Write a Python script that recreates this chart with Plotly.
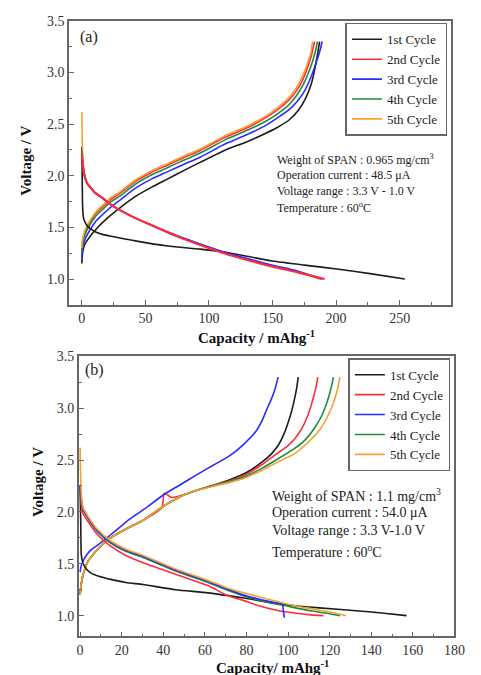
import plotly.graph_objects as go

# ---------------- Panel (a): SPAN 0.965 mg/cm2 ----------------
cycles = ["1st Cycle", "2nd Cycle", "3rd Cycle", "4th Cycle", "5th Cycle"]
colors = ["#1c1c1c", "#ff2b3c", "#2b2bff", "#1b8c3c", "#f5a030"]

# charge branches (capacity mAh/g, voltage V)
a_chg1_cap = [0, 0.3, 1, 2, 4, 7.5, 11.7, 20, 29.5, 42.2, 55, 67.6, 80, 93, 113, 128, 141, 154, 163, 170, 176, 180.5, 183, 185, 187]
a_chg1_v = [1.15, 1.22, 1.28, 1.33, 1.37, 1.43, 1.49, 1.59, 1.685, 1.80, 1.89, 1.97, 2.05, 2.13, 2.25, 2.32, 2.39, 2.47, 2.54, 2.63, 2.75, 2.89, 3.02, 3.15, 3.3]
a_chg2_cap = [0, 0.3, 1, 3, 6.6, 11, 16.8, 23, 29.5, 42.2, 55, 67.6, 80, 93, 113, 130, 145, 155, 163, 168.7, 173, 177, 180.5, 183]
a_chg2_v = [1.28, 1.34, 1.39, 1.47, 1.555, 1.635, 1.705, 1.775, 1.825, 1.945, 2.035, 2.105, 2.175, 2.245, 2.375, 2.465, 2.565, 2.65, 2.735, 2.82, 2.91, 3.03, 3.16, 3.3]
a_chg3_cap = [0, 0.3, 1, 3, 6.6, 11, 16.8, 23, 29.5, 42.2, 55, 67.6, 80, 93, 113, 130, 145, 155, 163, 170, 176, 181, 185, 187.5, 189]
a_chg3_v = [1.20, 1.27, 1.32, 1.40, 1.48, 1.56, 1.63, 1.70, 1.76, 1.88, 1.97, 2.04, 2.11, 2.18, 2.31, 2.40, 2.49, 2.57, 2.64, 2.73, 2.84, 2.98, 3.12, 3.22, 3.3]
a_chg4_cap = [0, 0.3, 1, 3, 6.6, 11, 16.8, 23, 29.5, 42.2, 55, 67.6, 80, 93, 113, 130, 145, 155, 163, 169, 174, 178, 181.5, 183.8, 185.3]
a_chg4_v = [1.26, 1.32, 1.37, 1.45, 1.53, 1.61, 1.68, 1.75, 1.80, 1.92, 2.01, 2.08, 2.15, 2.22, 2.35, 2.44, 2.53, 2.61, 2.69, 2.78, 2.88, 2.99, 3.11, 3.21, 3.3]
a_chg5_cap = [0, 0.3, 1, 3, 6.6, 11, 16.8, 23, 29.5, 42.2, 55, 67.6, 80, 93, 113, 130, 145, 155, 163, 168.7, 173, 177, 180, 181.5]
a_chg5_v = [1.30, 1.36, 1.41, 1.49, 1.57, 1.65, 1.72, 1.79, 1.84, 1.96, 2.05, 2.12, 2.19, 2.26, 2.39, 2.48, 2.58, 2.67, 2.76, 2.85, 2.95, 3.07, 3.19, 3.3]

# discharge branches
a_dis1_cap = [0, 0.3, 0.6, 1.2, 2.5, 4.5, 6.6, 10, 16.8, 25, 42, 67.6, 93, 113, 130, 150, 175, 202, 228, 254]
a_dis1_v = [2.28, 1.95, 1.70, 1.60, 1.55, 1.51, 1.49, 1.46, 1.43, 1.41, 1.37, 1.32, 1.29, 1.26, 1.22, 1.175, 1.135, 1.095, 1.05, 1.0]
a_dis2_cap = [0, 0.5, 1.5, 2.8, 4.5, 6.6, 10, 16.8, 23, 29.5, 42.2, 55, 67.6, 80, 93, 113, 130, 150, 170, 191]
a_dis2_v = [2.22, 2.14, 2.04, 1.97, 1.92, 1.89, 1.84, 1.78, 1.72, 1.67, 1.59, 1.52, 1.45, 1.39, 1.33, 1.245, 1.185, 1.12, 1.065, 1.0]
a_dis3_cap = [0, 0.5, 1.5, 2.8, 4.5, 6.6, 10, 16.8, 23, 29.5, 42.2, 55, 67.6, 80, 93, 113, 130, 150, 170, 189]
a_dis3_v = [2.22, 2.14, 2.04, 1.97, 1.92, 1.89, 1.84, 1.78, 1.72, 1.67, 1.59, 1.52, 1.456, 1.397, 1.34, 1.258, 1.198, 1.134, 1.076, 1.0]
a_dis4_cap = [0, 0.5, 1.5, 2.8, 4.5, 6.6, 10, 16.8, 23, 29.5, 42.2, 55, 67.6, 80, 93, 113, 130, 150, 170, 188]
a_dis4_v = [2.24, 2.15, 2.05, 1.97, 1.92, 1.89, 1.84, 1.78, 1.72, 1.67, 1.59, 1.52, 1.45, 1.39, 1.335, 1.25, 1.19, 1.125, 1.07, 1.0]
a_dis5_cap = [0, 0.3, 0.8, 1.5, 2.8, 4.5, 6.6, 10, 16.8, 23, 29.5, 42.2, 55, 67.6, 80, 93, 113, 130, 150, 170, 187]
a_dis5_v = [2.62, 2.35, 2.18, 2.05, 1.97, 1.92, 1.89, 1.84, 1.78, 1.72, 1.67, 1.59, 1.52, 1.45, 1.39, 1.335, 1.25, 1.19, 1.125, 1.07, 1.0]

# ---------------- Panel (b): SPAN 1.1 mg/cm2 ----------------
b_chg1_cap = [0, 0.5, 1.5, 3.7, 8, 13.1, 22.5, 30.3, 39.7, 50.6, 56.2, 64.6, 72, 80, 87.4, 92, 95.2, 98, 100, 101.7, 103, 104.1, 104.9]
b_chg1_v = [1.2, 1.3, 1.4, 1.52, 1.63, 1.73, 1.84, 1.92, 2.05, 2.17, 2.21, 2.26, 2.31, 2.38, 2.48, 2.56, 2.64, 2.75, 2.86, 2.97, 3.08, 3.19, 3.3]
b_chg2_cap = [0, 0.5, 1.5, 3.7, 8, 13.1, 22.5, 30.3, 39.3, 40.5, 44, 50.6, 56.2, 64.6, 72, 79.6, 87, 95.2, 100, 103, 106.5, 109.3, 111, 112.4, 113.5, 114.3]
b_chg2_v = [1.2, 1.3, 1.4, 1.52, 1.63, 1.73, 1.84, 1.92, 2.04, 2.18, 2.14, 2.17, 2.21, 2.26, 2.30, 2.36, 2.45, 2.57, 2.64, 2.70, 2.80, 2.92, 3.02, 3.12, 3.21, 3.3]
b_chg3_cap = [0, 0.5, 2, 4.5, 8.4, 14.7, 22.5, 30.3, 41.2, 48, 56.2, 64, 71.8, 78, 84.3, 87.5, 89.8, 92, 93.8, 95.2]
b_chg3_v = [1.42, 1.48, 1.55, 1.62, 1.68, 1.78, 1.91, 2.02, 2.18, 2.26, 2.36, 2.45, 2.54, 2.64, 2.77, 2.88, 2.99, 3.09, 3.19, 3.3]
b_chg4_cap = [0, 0.5, 1.5, 3.7, 8, 13.1, 22.5, 30.3, 39.7, 50.6, 56.2, 64.6, 72, 79.6, 87.4, 95, 103, 108, 112.4, 116, 118.6, 120.4, 121.8]
b_chg4_v = [1.2, 1.3, 1.4, 1.52, 1.63, 1.73, 1.84, 1.92, 2.05, 2.17, 2.21, 2.255, 2.295, 2.345, 2.42, 2.51, 2.61, 2.69, 2.80, 2.92, 3.05, 3.17, 3.3]
b_chg5_cap = [0, 0.5, 1.5, 3.7, 8, 13.1, 22.5, 30.3, 39.7, 50.6, 56.2, 64.6, 72, 79.6, 87.4, 95, 103, 109, 115.5, 119, 121.8, 123.6, 124.9]
b_chg5_v = [1.2, 1.3, 1.4, 1.52, 1.63, 1.73, 1.84, 1.92, 2.05, 2.17, 2.21, 2.25, 2.285, 2.33, 2.40, 2.48, 2.56, 2.66, 2.80, 2.92, 3.05, 3.17, 3.3]

b_dis1_cap = [0, 0.3, 0.6, 1.5, 3, 5.3, 9, 14.7, 22, 30.3, 45.9, 61.5, 78.7, 96.8, 115, 132.7, 145, 157]
b_dis1_v = [2.25, 1.9, 1.58, 1.50, 1.45, 1.41, 1.38, 1.35, 1.32, 1.30, 1.25, 1.22, 1.17, 1.11, 1.075, 1.048, 1.025, 1.0]
b_dis2_cap = [0, 0.5, 1.5, 3.7, 8.4, 14.7, 22, 30.3, 45.9, 61.5, 70.3, 78.7, 85.9, 95, 101.5, 110, 117]
b_dis2_v = [2.2, 2.08, 1.98, 1.91, 1.78, 1.67, 1.58, 1.51, 1.40, 1.29, 1.20, 1.145, 1.095, 1.05, 1.03, 1.01, 1.0]
b_dis3_cap = [0, 0.5, 1.5, 3.7, 8.4, 14.7, 22, 30.3, 45.9, 61.5, 70.3, 78.7, 90, 97.2, 97.8, 98.3]
b_dis3_v = [2.25, 2.13, 2.03, 1.95, 1.82, 1.71, 1.63, 1.57, 1.44, 1.33, 1.26, 1.20, 1.14, 1.11, 1.03, 0.98]
b_dis4_cap = [0, 0.5, 1.5, 3.7, 8.4, 14.7, 22, 30.3, 45.9, 61.5, 70.3, 78.7, 90, 100, 110, 118, 125]
b_dis4_v = [2.25, 2.12, 2.02, 1.94, 1.81, 1.70, 1.62, 1.56, 1.43, 1.32, 1.25, 1.19, 1.13, 1.09, 1.05, 1.025, 1.0]
b_dis5_cap = [0, 0.3, 0.8, 1.5, 3.7, 8.4, 14.7, 22, 30.3, 45.9, 61.5, 70.3, 78.7, 90, 100, 110, 120, 128]
b_dis5_v = [2.62, 2.3, 2.12, 2.04, 1.96, 1.83, 1.72, 1.64, 1.58, 1.45, 1.34, 1.27, 1.22, 1.16, 1.11, 1.07, 1.035, 1.0]

a_notes = ["Weight of SPAN : 0.965 mg/cm<sup>3</sup>", "Operation current : 48.5 \u03bcA",
           "Voltage range : 3.3 V - 1.0 V", "Temperature : 60<sup>o</sup>C"]
b_notes = ["Weight of SPAN : 1.1 mg/cm<sup>3</sup>", "Operation current : 54.0 \u03bcA",
           "Voltage range : 3.3 V-1.0 V", "Temperature : 60<sup>o</sup>C"]

a_xticks = [0, 50, 100, 150, 200, 250]
b_xticks = [0, 20, 40, 60, 80, 100, 120, 140, 160, 180]
v_ticks = [1.0, 1.5, 2.0, 2.5, 3.0, 3.5]

W, H = 481, 675
SERIF = "Liberation Serif, Times New Roman, serif"
AX = "#666666"


def px(x):
    return x / W


def py(y):
    return 1 - y / H


fig = go.Figure()

a_chg = [(a_chg1_cap, a_chg1_v), (a_chg2_cap, a_chg2_v), (a_chg3_cap, a_chg3_v), (a_chg4_cap, a_chg4_v), (a_chg5_cap, a_chg5_v)]
a_dis = [(a_dis1_cap, a_dis1_v), (a_dis2_cap, a_dis2_v), (a_dis3_cap, a_dis3_v), (a_dis4_cap, a_dis4_v), (a_dis5_cap, a_dis5_v)]
b_chg = [(b_chg1_cap, b_chg1_v), (b_chg2_cap, b_chg2_v), (b_chg3_cap, b_chg3_v), (b_chg4_cap, b_chg4_v), (b_chg5_cap, b_chg5_v)]
b_dis = [(b_dis1_cap, b_dis1_v), (b_dis2_cap, b_dis2_v), (b_dis3_cap, b_dis3_v), (b_dis4_cap, b_dis4_v), (b_dis5_cap, b_dis5_v)]


def add_panel(chg, dis, dis_order, xa, ya, legend, tag):
    for i in range(5):
        x, y = chg[i]
        fig.add_trace(go.Scatter(
            x=x, y=y, mode="lines", name=cycles[i], legend=legend,
            legendgroup=tag + str(i), legendrank=i + 1,
            line=dict(color=colors[i], width=1.6, shape="spline", smoothing=0.6),
            xaxis=xa, yaxis=ya))
    for i in dis_order:
        x, y = dis[i]
        fig.add_trace(go.Scatter(
            x=x, y=y, mode="lines", showlegend=False, legend=legend,
            legendgroup=tag + str(i),
            line=dict(color=colors[i], width=2.2 if (i == 1 and tag == "a") else 1.6,
                      shape="spline", smoothing=0.6),
            xaxis=xa, yaxis=ya))


add_panel(a_chg, a_dis, [0, 4, 3, 2, 1], "x", "y", "legend", "a")
add_panel(b_chg, b_dis, [0, 1, 3, 2, 4], "x2", "y2", "legend2", "b")

axis_common = dict(
    showline=True, linecolor=AX, linewidth=1.6, mirror=True,
    ticks="inside", ticklen=5, tickwidth=1.4, tickcolor=AX,
    showgrid=False, zeroline=False,
    tickfont=dict(family=SERIF, size=14, color="#333"),
)

legend_common = dict(
    bgcolor="white", bordercolor=AX, borderwidth=1.5,
    font=dict(family=SERIF, size=13, color="#222"),
    xanchor="left", yanchor="top", traceorder="normal",
    tracegroupgap=0, itemwidth=30,
)

fig.update_layout(
    width=W, height=H, margin=dict(l=0, r=0, t=0, b=0),
    paper_bgcolor="white", plot_bgcolor="white",
    xaxis=dict(domain=[px(69), px(461)], range=[-10, 290], tickvals=a_xticks, anchor="y",
               minor=dict(ticks="inside", ticklen=3, tickcolor=AX, dtick=25, tick0=0), **axis_common),
    yaxis=dict(domain=[py(301), py(14)], range=[0.75, 3.5], tickvals=v_ticks, tickformat=".1f", anchor="x",
               minor=dict(ticks="inside", ticklen=3, tickcolor=AX, dtick=0.25, tick0=0), **axis_common),
    xaxis2=dict(domain=[px(79), px(465)], range=[-0.6, 180], tickvals=b_xticks, anchor="y2",
                minor=dict(ticks="inside", ticklen=3, tickcolor=AX, dtick=10, tick0=0), **axis_common),
    yaxis2=dict(domain=[py(636), py(353)], range=[0.8, 3.5], tickvals=v_ticks, tickformat=".1f", anchor="x2",
                minor=dict(ticks="inside", ticklen=3, tickcolor=AX, dtick=0.25, tick0=0), **axis_common),
    legend=dict(x=px(353), y=py(16), **legend_common),
    legend2=dict(x=px(356), y=py(355), **legend_common),
    showlegend=True,
)

title_font = dict(family=SERIF, size=15, color="#111")
ann = []
ann.append(dict(text="<b>Voltage / V</b>", x=px(25), y=py(155), textangle=-90, font=title_font))
ann.append(dict(text="<b>Capacity / mAhg<sup>-1</sup></b>", x=px(262), y=py(333), font=title_font))
ann.append(dict(text="<b>Voltage / V</b>", x=px(37), y=py(480), textangle=-90, font=title_font))
ann.append(dict(text="<b>Capacity/ mAhg<sup>-1</sup></b>", x=px(278), y=py(667), font=title_font))
ann.append(dict(text="(a)", x=px(78), y=py(30), xanchor="left", font=dict(family=SERIF, size=16, color="#222")))
ann.append(dict(text="(b)", x=px(83), y=py(367), xanchor="left", font=dict(family=SERIF, size=16, color="#222")))

a_rows = [154, 170, 186, 203]
for t, yy in zip(a_notes, a_rows):
    ann.append(dict(text=t, x=px(281), y=py(yy), xanchor="left", font=dict(family=SERIF, size=12, color="#222")))
b_rows = [493, 511, 529, 550]
for t, yy in zip(b_notes, b_rows):
    ann.append(dict(text=t, x=px(275), y=py(yy), xanchor="left", font=dict(family=SERIF, size=14, color="#222")))

for a in ann:
    a.update(xref="paper", yref="paper", showarrow=False)
    a.setdefault("xanchor", "center")
    a.setdefault("yanchor", "middle")
fig.update_layout(annotations=ann)

fig.write_html("out.html")
